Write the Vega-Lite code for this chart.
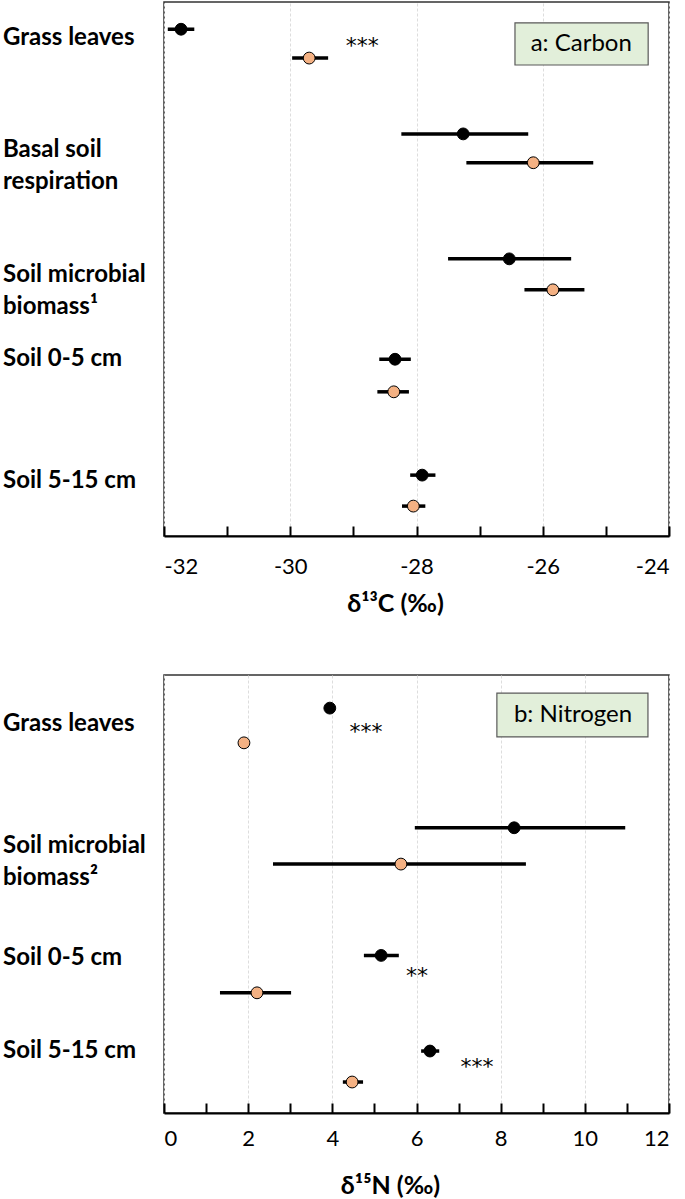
{
  "$schema": "https://vega.github.io/schema/vega-lite/v6.json",
  "padding": {"left": 2, "top": 1, "right": 10, "bottom": 2},
  "background": "white",
  "spacing": 57,
  "config": {
    "font": "Lato",
    "view": {"stroke": "#333333", "strokeWidth": 1.5},
    "axis": {
      "labelFont": "Lato",
      "labelFontSize": 22,
      "labelColor": "black",
      "titleFont": "Lato",
      "titleFontSize": 25,
      "titleFontWeight": "bold",
      "titleColor": "black",
      "domainColor": "black",
      "domainWidth": 2,
      "tickColor": "black",
      "tickWidth": 2,
      "tickSize": -10,
      "gridColor": "#dddddd",
      "gridDash": [3, 2],
      "gridWidth": 1
    }
  },
  "datasets": {
    "carbon": [
      {"item": "Grass leaves", "series": "s1", "mean": -31.73, "lo": -31.94, "hi": -31.52, "pos": 0.51},
      {"item": "Grass leaves", "series": "s2", "mean": -29.70, "lo": -29.97, "hi": -29.40, "pos": 1.05},
      {"item": "Basal soil respiration", "series": "s1", "mean": -27.26, "lo": -28.24, "hi": -26.23, "pos": 2.47},
      {"item": "Basal soil respiration", "series": "s2", "mean": -26.15, "lo": -27.21, "hi": -25.20, "pos": 3.01},
      {"item": "Soil microbial biomass", "series": "s1", "mean": -26.53, "lo": -27.50, "hi": -25.55, "pos": 4.81},
      {"item": "Soil microbial biomass", "series": "s2", "mean": -25.84, "lo": -26.29, "hi": -25.34, "pos": 5.39},
      {"item": "Soil 0-5 cm", "series": "s1", "mean": -28.34, "lo": -28.59, "hi": -28.09, "pos": 6.69},
      {"item": "Soil 0-5 cm", "series": "s2", "mean": -28.36, "lo": -28.62, "hi": -28.12, "pos": 7.30},
      {"item": "Soil 5-15 cm", "series": "s1", "mean": -27.91, "lo": -28.10, "hi": -27.70, "pos": 8.86},
      {"item": "Soil 5-15 cm", "series": "s2", "mean": -28.05, "lo": -28.23, "hi": -27.86, "pos": 9.44}
    ],
    "carbonLabels": [
      {"label": "Grass leaves", "pos": 0.67},
      {"label": "Basal soil\nrespiration", "pos": 2.77},
      {"label": "Soil microbial\nbiomass¹", "pos": 5.12},
      {"label": "Soil 0-5 cm", "pos": 6.69},
      {"label": "Soil 5-15 cm", "pos": 8.97}
    ],
    "carbonStars": [
      {"stars": "***", "x": -28.86, "pos": 0.82}
    ],
    "carbonBox": [
      {"name": "a: Carbon", "x1": -26.44, "x2": -24.33, "y1": 0.39, "y2": 1.18, "xc": -25.39, "yc": 0.79}
    ],
    "nitrogen": [
      {"item": "Grass leaves", "series": "s1", "mean": 3.94, "lo": 3.84, "hi": 4.05, "pos": 0.62},
      {"item": "Grass leaves", "series": "s2", "mean": 1.90, "lo": 1.81, "hi": 2.00, "pos": 1.27},
      {"item": "Soil microbial biomass", "series": "s1", "mean": 8.32, "lo": 5.96, "hi": 10.96, "pos": 2.86},
      {"item": "Soil microbial biomass", "series": "s2", "mean": 5.63, "lo": 2.59, "hi": 8.60, "pos": 3.54},
      {"item": "Soil 0-5 cm", "series": "s1", "mean": 5.16, "lo": 4.75, "hi": 5.58, "pos": 5.25},
      {"item": "Soil 0-5 cm", "series": "s2", "mean": 2.21, "lo": 1.33, "hi": 3.02, "pos": 5.95},
      {"item": "Soil 5-15 cm", "series": "s1", "mean": 6.32, "lo": 6.11, "hi": 6.54, "pos": 7.04},
      {"item": "Soil 5-15 cm", "series": "s2", "mean": 4.47, "lo": 4.25, "hi": 4.73, "pos": 7.62}
    ],
    "nitrogenLabels": [
      {"label": "Grass leaves", "pos": 0.92},
      {"label": "Soil microbial\nbiomass²", "pos": 3.20},
      {"label": "Soil 0-5 cm", "pos": 5.30},
      {"label": "Soil 5-15 cm", "pos": 7.04}
    ],
    "nitrogenStars": [
      {"stars": "***", "x": 4.80, "pos": 1.07},
      {"stars": "**", "x": 6.01, "pos": 5.64},
      {"stars": "***", "x": 7.44, "pos": 7.34}
    ],
    "nitrogenBox": [
      {"name": "b: Nitrogen", "x1": 7.91, "x2": 11.50, "y1": 0.34, "y2": 1.16, "xc": 9.72, "yc": 0.75}
    ]
  },
  "vconcat": [
    {
      "width": 505,
      "height": 534,
      "layer": [
        {
          "data": {"name": "carbon"},
          "mark": {"type": "rule", "strokeWidth": 3.5, "color": "black"},
          "encoding": {
            "x": {"field": "lo", "type": "quantitative", "scale": {"domain": [-32, -24], "nice": false, "zero": false},
              "axis": {
                "title": "δ¹³C (‰)",
                "values": [-32, -31, -30, -29, -28, -27, -26, -25, -24],
                "labelExpr": "datum.value % 2 == 0 ? '' + datum.value : ''",
                "labelPadding": 30,
                "titlePadding": 14,
                "titleX": 231,
                "grid": true,
                "gridOpacity": {"condition": {"test": "datum.value % 2 != 0", "value": 0}, "value": 1}
              }},
            "x2": {"field": "hi"},
            "y": {"field": "pos", "type": "quantitative", "scale": {"domain": [0, 10], "reverse": true, "nice": false, "zero": false}, "axis": null}
          }
        },
        {
          "data": {"name": "carbon"},
          "mark": {"type": "point", "filled": true, "size": 140, "stroke": "black", "strokeWidth": 1, "opacity": 1},
          "encoding": {
            "x": {"field": "mean", "type": "quantitative"},
            "y": {"field": "pos", "type": "quantitative"},
            "fill": {"field": "series", "type": "nominal", "scale": {"domain": ["s1", "s2"], "range": ["black", "#F4B183"]}, "legend": null}
          }
        },
        {
          "data": {"name": "carbonStars"},
          "mark": {"type": "text", "fontSize": 22, "font": "DejaVu Sans", "align": "center", "baseline": "middle", "color": "black"},
          "encoding": {
            "x": {"field": "x", "type": "quantitative"},
            "y": {"field": "pos", "type": "quantitative"},
            "text": {"field": "stars"}
          }
        },
        {
          "data": {"name": "carbonBox"},
          "mark": {"type": "rect", "fill": "#E2EFDA", "stroke": "#595959", "strokeWidth": 1.2},
          "encoding": {
            "x": {"field": "x1", "type": "quantitative"},
            "x2": {"field": "x2"},
            "y": {"field": "y1", "type": "quantitative"},
            "y2": {"field": "y2"}
          }
        },
        {
          "data": {"name": "carbonBox"},
          "mark": {"type": "text", "fontSize": 24, "align": "center", "baseline": "middle", "color": "black"},
          "encoding": {
            "x": {"field": "xc", "type": "quantitative"},
            "y": {"field": "yc", "type": "quantitative"},
            "text": {"field": "name"}
          }
        },
        {
          "data": {"name": "carbonLabels"},
          "mark": {"type": "text", "fontSize": 24, "fontWeight": "bold", "align": "left", "baseline": "middle", "dx": -161, "lineBreak": "\n", "lineHeight": 32, "color": "black"},
          "encoding": {
            "x": {"datum": -32, "type": "quantitative"},
            "y": {"field": "pos", "type": "quantitative"},
            "text": {"field": "label"}
          }
        }
      ]
    },
    {
      "width": 505,
      "height": 438,
      "layer": [
        {
          "data": {"name": "nitrogen"},
          "mark": {"type": "rule", "strokeWidth": 3.5, "color": "black"},
          "encoding": {
            "x": {"field": "lo", "type": "quantitative", "scale": {"domain": [0, 12], "nice": false, "zero": false},
              "axis": {
                "title": "δ¹⁵N (‰)",
                "values": [0, 1, 2, 3, 4, 5, 6, 7, 8, 9, 10, 11, 12],
                "labelExpr": "datum.value % 2 == 0 ? '' + datum.value : ''",
                "labelPadding": 25,
                "titlePadding": 24,
                "titleX": 226,
                "grid": true,
                "gridOpacity": {"condition": {"test": "datum.value % 2 != 0", "value": 0}, "value": 1}
              }},
            "x2": {"field": "hi"},
            "y": {"field": "pos", "type": "quantitative", "scale": {"domain": [0, 8.2], "reverse": true, "nice": false, "zero": false}, "axis": null}
          }
        },
        {
          "data": {"name": "nitrogen"},
          "mark": {"type": "point", "filled": true, "size": 140, "stroke": "black", "strokeWidth": 1, "opacity": 1},
          "encoding": {
            "x": {"field": "mean", "type": "quantitative"},
            "y": {"field": "pos", "type": "quantitative"},
            "fill": {"field": "series", "type": "nominal", "scale": {"domain": ["s1", "s2"], "range": ["black", "#F4B183"]}, "legend": null}
          }
        },
        {
          "data": {"name": "nitrogenStars"},
          "mark": {"type": "text", "fontSize": 22, "font": "DejaVu Sans", "align": "center", "baseline": "middle", "color": "black"},
          "encoding": {
            "x": {"field": "x", "type": "quantitative"},
            "y": {"field": "pos", "type": "quantitative"},
            "text": {"field": "stars"}
          }
        },
        {
          "data": {"name": "nitrogenBox"},
          "mark": {"type": "rect", "fill": "#E2EFDA", "stroke": "#595959", "strokeWidth": 1.2},
          "encoding": {
            "x": {"field": "x1", "type": "quantitative"},
            "x2": {"field": "x2"},
            "y": {"field": "y1", "type": "quantitative"},
            "y2": {"field": "y2"}
          }
        },
        {
          "data": {"name": "nitrogenBox"},
          "mark": {"type": "text", "fontSize": 24, "align": "center", "baseline": "middle", "color": "black"},
          "encoding": {
            "x": {"field": "xc", "type": "quantitative"},
            "y": {"field": "yc", "type": "quantitative"},
            "text": {"field": "name"}
          }
        },
        {
          "data": {"name": "nitrogenLabels"},
          "mark": {"type": "text", "fontSize": 24, "fontWeight": "bold", "align": "left", "baseline": "middle", "dx": -161, "lineBreak": "\n", "lineHeight": 32, "color": "black"},
          "encoding": {
            "x": {"datum": 0, "type": "quantitative"},
            "y": {"field": "pos", "type": "quantitative"},
            "text": {"field": "label"}
          }
        }
      ]
    }
  ]
}
